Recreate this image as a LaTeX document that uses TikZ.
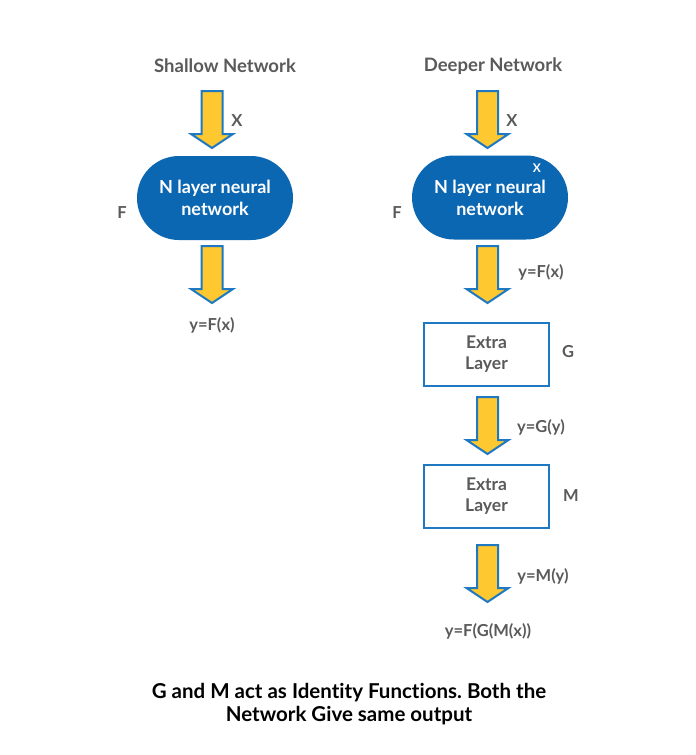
\documentclass[tikz,border=0pt]{standalone}
\usepackage{fontspec}
\setmainfont{Lato}[Ligatures={NoCommon,NoRare}]
\usetikzlibrary{positioning}
\definecolor{nblue}{HTML}{0B67B2}
\definecolor{ablue}{HTML}{1E78C2}
\definecolor{ayellow}{HTML}{FDC830}
\definecolor{tgray}{HTML}{5A5A5A}
\frenchspacing
\tikzset{
  lbl/.style={text=tgray, font=\bfseries\fontsize{16.5}{18}\selectfont, inner sep=0pt},
  title/.style={text=tgray, font=\bfseries\fontsize{18.5}{21}\selectfont, inner sep=0pt},
  stadium/.style={fill=nblue, draw=none, rounded corners=42pt, minimum width=156pt, minimum height=84pt,
     text=white, align=center, font=\bfseries\fontsize{18}{22}\selectfont, inner sep=0pt},
  layerbox/.style={draw=ablue, line width=2pt, fill=white, minimum width=125pt, minimum height=63pt,
     text=tgray, align=center, font=\bfseries\fontsize{17.5}{21}\selectfont, inner sep=0pt},
  blockarrow/.style={fill=ayellow, draw=ablue, line width=2pt, line join=miter},
  pics/downarrow/.style={code={
    \draw[blockarrow] (-10.5,0) -- (10.5,0) -- (10.5,43) -- (21,43) -- (0,57) -- (-21,43) -- (-10.5,43) -- cycle;
  }}
}
\begin{document}
\begin{tikzpicture}[x=1pt,y=-1pt]
\useasboundingbox[fill=white] (0,0) rectangle (696,755);

% titles
\node[title] (tS) at (225,66) {Shallow Network};
\node[title] (tD) at (493,66) {Deeper Network};

% shallow network
\coordinate (a1) at (212,91);
\pic at (a1) {downarrow};
\node[lbl] (xL) at (237,121) {X};
\node[stadium] (nL) at (215,198) {N layer neural\\network};
\node[lbl] (fL) at (122,213) {F};
\coordinate (a2) at (212,246);
\pic at (a2) {downarrow};
\node[lbl] (yL) at (212,325) {y=F(x)};

% deeper network
\coordinate (b1) at (487.5,91);
\pic at (b1) {downarrow};
\node[lbl] (xR) at (512,121) {X};
\node[stadium] (nR) at (490,197.5) {N layer neural\\network};
\node[text=white, font=\bfseries\fontsize{12}{13}\selectfont, inner sep=0pt] (xs) at (537,168) {X};
\node[lbl] (fR) at (397,213) {F};
\coordinate (b2) at (487.5,246);
\pic at (b2) {downarrow};
\node[lbl] (y1) at (541,272) {y=F(x)};
\node[layerbox] (g) at (486.5,354.5) {Extra\\Layer};
\node[lbl] (gl) at (568,352) {G};
\coordinate (b3) at (487.5,397);
\pic at (b3) {downarrow};
\node[lbl] (y2) at (541,427) {y=G(y)};
\node[layerbox] (m) at (486.5,496.5) {Extra\\Layer};
\node[lbl] (ml) at (571,496) {M};
\coordinate (b4) at (487.5,545);
\pic at (b4) {downarrow};
\node[lbl] (y3) at (543,576) {y=M(y)};
\node[lbl] (y4) at (488,631) {y=F(G(M(x))};

% caption
\node[text=black, align=center, font=\bfseries\fontsize{20.5}{23.5}\selectfont, inner sep=0pt] (cap) at (349,704)
  {G and M act as Identity Functions. Both the\\Network Give same output};
\end{tikzpicture}
\end{document}
